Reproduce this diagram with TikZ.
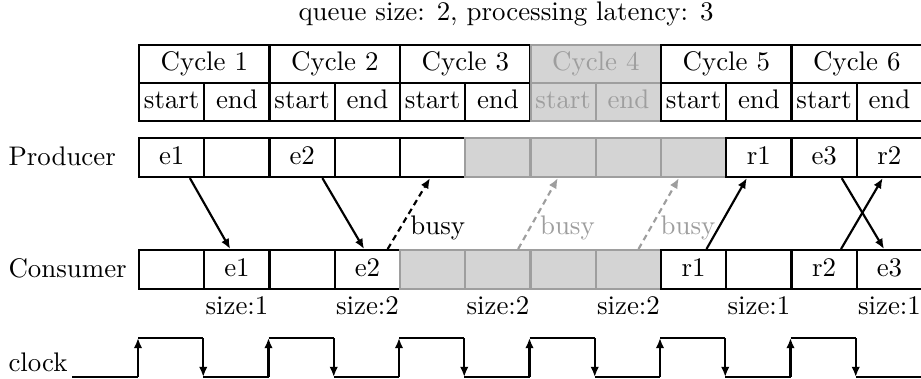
\documentclass[tikz,border=0pt]{standalone}
\usetikzlibrary{arrows.meta,calc}
\definecolor{shade}{gray}{0.83}
\definecolor{dim}{gray}{0.62}
\tikzset{
  cell/.style={draw, line width=0.8pt, minimum width=24.27pt, minimum height=14.5pt,
    inner sep=0pt, anchor=north west, text height=6.9pt, text depth=1.9pt},
  hcell/.style={cell, minimum height=14.14pt},
  wide/.style={minimum width=48.54pt},
  plain/.style={},
  off/.style={fill=shade, draw=dim, text=dim},
  flow/.style={line width=0.8pt, -{Latex[length=3.8pt,width=3.2pt]}},
  busyflow/.style={flow, dash pattern=on 2.2pt off 1.6pt},
  note/.style={inner sep=0pt},
  wave/.style={line width=0.8pt},
}
\begin{document}
\begin{tikzpicture}[x=0.372pt, y=-0.372pt]
\useasboundingbox (0,0) rectangle (921,379);

% title
\node[anchor=base] (title) at (506,20) {queue size: 2, processing latency: 3};

% header: cycles and their start/end halves
\foreach \n/\s in {1/plain,2/plain,3/plain,4/off,5/plain,6/plain}{
  \node[hcell, wide, \s] (h\n) at ({138+65.25*2*(\n-1)},44) {Cycle \n};
}
\foreach \k/\t/\s in {0/start/plain,1/end/plain,2/start/plain,3/end/plain,
                      4/start/plain,5/end/plain,6/start/off,7/end/off,
                      8/start/plain,9/end/plain,10/start/plain,11/end/plain}{
  \node[hcell, \s] (s\k) at ({138+65.25*\k},82) {\t};
}

% producer row
\node[note, anchor=west] (prod) at (8,156.5) {Producer};
\foreach \k/\t/\s in {0/e1/plain,1/{}/plain,2/e2/plain,3/{}/plain,4/{}/plain,
                      5/{}/off,6/{}/off,7/{}/off,8/{}/off,
                      9/r1/plain,10/e3/plain,11/r2/plain}{
  \node[cell, \s] (p\k) at ({138+65.25*\k},137) {\t};
}

% consumer row
\node[note, anchor=west] (cons) at (8,268.5) {Consumer};
\foreach \k/\t/\s in {0/{}/plain,1/e1/plain,2/{}/plain,3/e2/plain,
                      4/{}/off,5/{}/off,6/{}/off,7/{}/off,
                      8/r1/plain,9/{}/plain,10/r2/plain,11/e3/plain}{
  \node[cell, \s] (c\k) at ({138+65.25*\k},249) {\t};
}

% queue occupancy
\foreach \k/\v in {1/1,3/2,5/2,7/2,9/1,11/1}{
  \node[anchor=base] (z\k) at ($(c\k.south)+(0,24)$) {size:\v};
}

% messages between producer and consumer
\draw[flow] ($(p0.south west)!0.77!(p0.south east)$) -- ($(c1.north west)!0.40!(c1.north east)$);
\draw[flow] ($(p2.south west)!0.80!(p2.south east)$) -- ($(c3.north west)!0.45!(c3.north east)$);
\draw[busyflow] ($(c3.north west)!0.80!(c3.north east)$) -- node[pos=0.3, right] {busy}
  ($(p4.south west)!0.46!(p4.south east)$);
\draw[busyflow, dim] ($(c5.north west)!0.80!(c5.north east)$) -- node[pos=0.3, right, text=dim] {busy}
  ($(p6.south west)!0.42!(p6.south east)$);
\draw[busyflow, dim] ($(c7.north west)!0.65!(c7.north east)$) -- node[pos=0.3, right, text=dim] {busy}
  ($(p8.south west)!0.28!(p8.south east)$);
\draw[flow] ($(c8.north west)!0.69!(c8.north east)$) -- ($(p9.south west)!0.32!(p9.south east)$);
\draw[flow] ($(p10.south west)!0.76!(p10.south east)$) -- ($(c11.north west)!0.42!(c11.north east)$);
\draw[flow] ($(c10.north west)!0.75!(c10.north east)$) -- ($(p11.south west)!0.40!(p11.south east)$);

% clock waveform
\node[note, anchor=base west] (clk) at (8,371) {clock};
\draw[wave] (72,377) -- (138,377);
\foreach \k in {0,2,...,10}{
  \pgfmathsetmacro{\xa}{138+65.25*\k}
  \pgfmathsetmacro{\xb}{138+65.25*(\k+1)}
  \pgfmathsetmacro{\xc}{138+65.25*(\k+2)}
  \draw[flow] (\xa,377) -- (\xa,338);
  \draw[wave] (\xa,338) -- (\xb,338);
  \draw[flow] (\xb,338) -- (\xb,377);
  \draw[wave] (\xb,377) -- (\xc,377);
}
\end{tikzpicture}
\end{document}
